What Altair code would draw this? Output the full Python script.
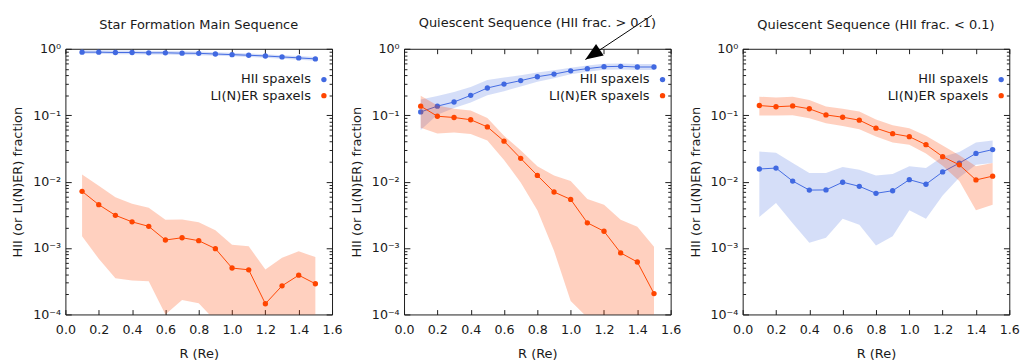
import math
import altair as alt
import pandas as pd

# ---------------- data ----------------
R = [0.1, 0.2, 0.3, 0.4, 0.5, 0.6, 0.7, 0.8, 0.9, 1.0, 1.1, 1.2, 1.3, 1.4, 1.5]
SERIES = ["HII spaxels", "LI(N)ER spaxels"]
COLORS = ["#4169E1", "#FF4500"]

titles = [
    "Star Formation Main Sequence",
    "Quiescent Sequence (HII frac. > 0.1)",
    "Quiescent Sequence (HII frac. < 0.1)",
]

# panel 1 : star formation main sequence
hii1 = [0.89, 0.89, 0.88, 0.88, 0.87, 0.87, 0.86, 0.855, 0.835, 0.817, 0.80, 0.78, 0.755, 0.73, 0.705]
hii1_hi = [0.95, 0.95, 0.94, 0.94, 0.93, 0.93, 0.92, 0.91, 0.89, 0.87, 0.85, 0.83, 0.80, 0.78, 0.75]
hii1_lo = [0.84, 0.84, 0.83, 0.83, 0.82, 0.82, 0.81, 0.80, 0.785, 0.77, 0.75, 0.735, 0.71, 0.685, 0.66]
lin1 = [0.00714, 0.0045, 0.00311, 0.00248, 0.00212, 0.00132, 0.00143, 0.00129, 0.00098, 0.0005, 0.00047, 0.000145, 0.00027, 0.00039, 0.00029]
lin1_hi = [0.0128, 0.00865, 0.00583, 0.00466, 0.00403, 0.00266, 0.00268, 0.00245, 0.00185, 0.00112, 0.00106, 0.000477, 0.000714, 0.000893, 0.00073]
lin1_lo = [0.00151, 0.00069, 0.00035, 0.000325, 0.000316, 0.0001, 0.000165, 0.000148, 0.00008, 0.00003, 0.00003, 0.00003, 0.00003, 0.00003, 0.00003]

# panel 2 : quiescent, HII frac > 0.1
hii2 = [0.112, 0.137, 0.158, 0.199, 0.257, 0.294, 0.332, 0.38, 0.416, 0.466, 0.503, 0.538, 0.545, 0.532, 0.532]
hii2_hi = [0.173, 0.194, 0.224, 0.265, 0.34, 0.37, 0.40, 0.44, 0.475, 0.52, 0.56, 0.595, 0.60, 0.59, 0.59]
hii2_lo = [0.06, 0.102, 0.128, 0.155, 0.20, 0.23, 0.27, 0.32, 0.36, 0.415, 0.45, 0.485, 0.49, 0.48, 0.48]
lin2 = [0.137, 0.0966, 0.0924, 0.0855, 0.0667, 0.0407, 0.0224, 0.0124, 0.00698, 0.0054, 0.0024, 0.00179, 0.000845, 0.000617, 0.000206]
lin2_hi = [0.196, 0.14, 0.125, 0.118, 0.091, 0.049, 0.0297, 0.017, 0.0124, 0.0102, 0.0055, 0.0045, 0.00266, 0.0021, 0.00105]
lin2_lo = [0.065, 0.053, 0.055, 0.052, 0.0416, 0.0212, 0.0097, 0.0037, 0.00091, 0.00016, 0.00009, 0.00003, 0.00003, 0.00003, 0.00003]

# panel 3 : quiescent, HII frac < 0.1
hii3 = [0.0155, 0.016, 0.0102, 0.00746, 0.0075, 0.0098, 0.0085, 0.00667, 0.0073, 0.0107, 0.00914, 0.014, 0.019, 0.0266, 0.0304]
hii3_hi = [0.0284, 0.0272, 0.019, 0.0135, 0.0135, 0.0166, 0.0151, 0.0124, 0.013, 0.017, 0.016, 0.0238, 0.028, 0.039, 0.0416]
hii3_lo = [0.00294, 0.00476, 0.00237, 0.0012, 0.00143, 0.00275, 0.00225, 0.00109, 0.00151, 0.0037, 0.00275, 0.0062, 0.0115, 0.018, 0.019]
lin3 = [0.14, 0.134, 0.138, 0.125, 0.101, 0.0933, 0.0843, 0.0638, 0.0527, 0.0476, 0.036, 0.0238, 0.0179, 0.0106, 0.0121]
lin3_hi = [0.19, 0.185, 0.19, 0.17, 0.135, 0.125, 0.114, 0.0863, 0.0706, 0.0638, 0.0492, 0.035, 0.025, 0.017, 0.019]
lin3_lo = [0.099, 0.099, 0.1, 0.09, 0.0755, 0.069, 0.0617, 0.048, 0.039, 0.036, 0.0266, 0.0173, 0.0102, 0.0037, 0.0045]

# axes
x_ticks = [0.0, 0.2, 0.4, 0.6, 0.8, 1.0, 1.2, 1.4, 1.6]
y_major = [1e-4, 1e-3, 1e-2, 1e-1, 1.0]
y_labels = ["10⁻⁴", "10⁻³", "10⁻²", "10⁻¹", "10⁰"]
y_minor = [m * 10.0 ** e for e in range(-4, 0) for m in range(2, 10)]

# annotation arrow in panel 2 (start, tip) in data units
arrow_x = [1.487, 1.088]
arrow_y = [3.18, 0.69]

FONT = "DejaVu Sans"
TXT = "#1a1a1a"
W, H = 274, 273
FS_TEXT = 13.3
FS_TICK = 13
TITLE_OFFSET = 12
LABEL_HALF = 6.5  # top y label sticks out of the plot by about half its height

label_expr = "[" + ",".join("'%s'" % s for s in y_labels) + "][round(log(datum.value)/LN10)+4]"


def tick_axis(orient, values, size):
    return alt.Axis(orient=orient, values=values, labels=False, title=None, domain=False,
                    grid=False, tickSize=alt.ExprRef(expr=str(-size)), tickColor=TXT, tickWidth=1)


def panel(title, hii, hii_lo, hii_hi, lin, lin_lo, lin_hi, arrow=False):
    n = len(R)
    df = pd.DataFrame({
        "R": R * 2,
        "series": [SERIES[0]] * n + [SERIES[1]] * n,
        "frac": hii + lin,
        "lo": hii_lo + lin_lo,
        "hi": hii_hi + lin_hi,
    })
    xs = alt.Scale(domain=[0, 1.6], nice=False, zero=False)
    ys = alt.Scale(type="log", domain=[1e-4, 1], nice=False)
    cs = alt.Scale(domain=SERIES, range=COLORS)

    def X(axis):
        return alt.X("R:Q", scale=xs, axis=axis)

    def Y(field, axis):
        return alt.Y(field + ":Q", scale=ys, axis=axis)

    hdf = alt.Chart(df).transform_filter(alt.datum.series == SERIES[0])
    ldf = alt.Chart(df).transform_filter(alt.datum.series == SERIES[1])

    ax_y_lab = alt.Axis(orient="left", values=y_major, labelExpr=label_expr, ticks=False,
                        domain=False, grid=False, title="HII (or LI(N)ER) fraction",
                        labelPadding=5, titlePadding=8)
    ax_x_lab = alt.Axis(orient="bottom", values=x_ticks, format=".1f", ticks=False, domain=False,
                        grid=False, title="R (Re)", labelPadding=10, titlePadding=10,
                        labelFlush=False, labelOverlap=False)

    band_h = hdf.mark_area(color=COLORS[0], opacity=0.22, clip=True).encode(
        x=X(ax_x_lab), y=Y("lo", ax_y_lab), y2="hi:Q")
    line_h = hdf.mark_line(color=COLORS[0], strokeWidth=1).encode(
        x=X(tick_axis("bottom", x_ticks, 5)), y=Y("frac", tick_axis("left", y_major, 6)))
    pts_h = hdf.mark_point(filled=True, opacity=1, size=30).encode(
        x=X(tick_axis("top", x_ticks, 5)), y=Y("frac", tick_axis("left", y_minor, 3)),
        color=alt.Color("series:N", scale=cs,
                        legend=alt.Legend(orient="none", legendX=259, legendY=25, title=None,
                                          labelAlign="right", labelOffset=alt.ExprRef(expr="-20"),
                                          symbolType="circle",
                                          symbolSize=30, labelFontSize=FS_TEXT, labelFont=FONT,
                                          labelColor=TXT, rowPadding=2.5, padding=0)))
    band_l = ldf.mark_area(color=COLORS[1], opacity=0.25, clip=True).encode(
        x=X(None), y=Y("lo", tick_axis("right", y_major, 6)), y2="hi:Q")
    line_l = ldf.mark_line(color=COLORS[1], strokeWidth=1).encode(
        x=X(None), y=Y("frac", tick_axis("right", y_minor, 3)))
    pts_l = ldf.mark_point(filled=True, opacity=1, size=30).encode(
        x=X(None), y=Y("frac", None),
        color=alt.Color("series:N", scale=cs, legend=None))

    layers = [band_h, line_h, pts_h, band_l, line_l, pts_l]
    dy = 0
    if arrow:
        adf = pd.DataFrame({"R": arrow_x, "frac": arrow_y, "order": [0, 1]})
        shaft = alt.Chart(adf).mark_line(color="black", strokeWidth=1).encode(
            x=X(None), y=Y("frac", None), order="order:Q")
        head = alt.Chart(adf.iloc[[1]]).mark_point(
            shape="M0,0L-0.39,1L0.39,1Z", filled=True, color="black", opacity=1,
            size=1296, angle=236, strokeWidth=0).encode(x=X(None), y=Y("frac", None))
        layers += [shaft, head]
        # the shaft reaches above the plot; keep the title at the same height as the others
        dy = math.log10(arrow_y[0]) * H / 4 + 0.5 - LABEL_HALF

    return alt.layer(*layers).resolve_axis(x="independent", y="independent").properties(
        width=W, height=H,
        title=alt.TitleParams(title, fontSize=FS_TEXT, font=FONT, fontWeight="normal",
                              color=TXT, offset=TITLE_OFFSET, dy=dy))


chart = alt.hconcat(
    panel(titles[0], hii1, hii1_lo, hii1_hi, lin1, lin1_lo, lin1_hi),
    panel(titles[1], hii2, hii2_lo, hii2_hi, lin2, lin2_lo, lin2_hi, arrow=True),
    panel(titles[2], hii3, hii3_lo, hii3_hi, lin3, lin3_lo, lin3_hi),
    spacing=6,
).resolve_scale(color="independent").resolve_legend(color="independent").properties(
    padding={"left": 2, "top": 0, "right": 0, "bottom": 0}
).configure_axis(
    labelFont=FONT, titleFont=FONT, labelFontSize=FS_TICK, titleFontSize=FS_TEXT,
    labelColor=TXT, titleColor=TXT, titleFontWeight="normal"
).configure_view(stroke=TXT, strokeWidth=1)

chart.save("out.html", embed_options={"renderer": "svg", "actions": False})
